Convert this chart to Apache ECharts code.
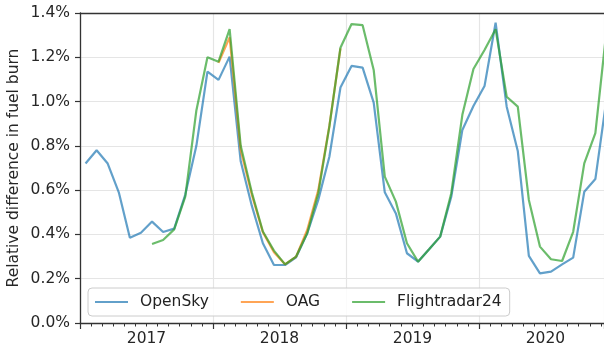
<!DOCTYPE html>
<html>
<head>
<meta charset="utf-8">
<script src="https://cdn.jsdelivr.net/npm/echarts@6/dist/echarts.min.js"></script>
<style>
  html, body { margin: 0; padding: 0; background: #ffffff; }
  #chart { width: 604px; height: 349px; }
</style>
</head>
<body>
<div id="chart"></div>
<script>
// Monthly relative difference in fuel burn (%), first entry = January 2017
const yearLabels = ['2017', '2018', '2019', '2020'];

const openSky = [
  0.72, 0.78, 0.72, 0.59, 0.385, 0.408, 0.458, 0.411, 0.426, 0.58, 0.80, 1.135,
  1.098, 1.203, 0.73, 0.53, 0.36, 0.262, 0.262, 0.297, 0.405, 0.556, 0.751, 1.063,
  1.161, 1.153, 0.995, 0.59, 0.495, 0.315, 0.277, 0.333, 0.39, 0.57, 0.872, 0.98,
  1.07, 1.356, 0.977, 0.777, 0.303, 0.224, 0.232, 0.265, 0.295, 0.593, 0.65, 1.01
];

const oag = [
  null, null, null, null, null, null, null, null, null, null, null, null,
  1.175, 1.29, 0.78, 0.58, 0.41, 0.32, 0.265, 0.30, 0.42, 0.60, 0.89, 1.24,
  null, null, null, null, null, null, null, null, null, null, null, null,
  null, null, null, null, null, null, null, null, null, null, null, null
];

const flightradar24 = [
  null, null, null, null, null, null, 0.357, 0.375, 0.423, 0.571, 0.96, 1.2,
  1.18, 1.327, 0.80, 0.59, 0.413, 0.327, 0.265, 0.30, 0.405, 0.586, 0.887, 1.243,
  1.35, 1.345, 1.143, 0.661, 0.548, 0.36, 0.277, 0.333, 0.39, 0.586, 0.94, 1.147,
  1.233, 1.327, 1.022, 0.977, 0.556, 0.345, 0.288, 0.28, 0.412, 0.721, 0.857, 1.32
];

// months are plotted at mid-month on a continuous month axis
const toPoints = arr => arr.map((v, i) => [i + 0.5, v]).filter(p => p[1] !== null);

const FONT = 'DejaVu Sans';
const FS = 15.5;
const AXIS_COLOR = '#333333';
const X_MAX = 47.28;
const gridRect = { left: 80, right: 0, top: 13, bottom: 26, outerBoundsMode: 'none', containLabel: false };

const chart = echarts.init(document.getElementById('chart'), null, { renderer: 'canvas' });

chart.setOption({
  animation: false,
  backgroundColor: '#ffffff',
  grid: [
    Object.assign({}, gridRect),
    Object.assign({}, gridRect),
    Object.assign({}, gridRect)
  ],
  xAxis: [
    { // year boundaries: long ticks + vertical grid
      gridIndex: 0, type: 'value', position: 'bottom', min: 0, max: X_MAX, interval: 12,
      axisLine: { show: true, lineStyle: { color: AXIS_COLOR, width: 1.3 } },
      axisTick: { show: true, length: 6, lineStyle: { color: AXIS_COLOR, width: 1.2 } },
      axisLabel: { show: false },
      splitLine: { show: true, lineStyle: { color: '#e5e5e5', width: 1.2 } }
    },
    { // top frame line
      gridIndex: 0, type: 'value', position: 'top', min: 0, max: X_MAX, interval: 12,
      axisLine: { show: true, lineStyle: { color: AXIS_COLOR, width: 1.3 } },
      axisTick: { show: false }, axisLabel: { show: false }, splitLine: { show: false }
    },
    { // monthly minor ticks
      gridIndex: 1, type: 'value', position: 'bottom', min: 0, max: X_MAX, interval: 1,
      axisLine: { show: false },
      axisTick: { show: true, length: 3.5, lineStyle: { color: AXIS_COLOR, width: 1 } },
      axisLabel: { show: false }, splitLine: { show: false }
    },
    { // year labels centred on each year
      gridIndex: 2, type: 'value', position: 'bottom', min: 0, max: X_MAX, interval: 6,
      axisLine: { show: false }, axisTick: { show: false }, splitLine: { show: false },
      axisLabel: {
        show: true, margin: 8, fontFamily: FONT, fontSize: FS, color: '#262626',
        showMinLabel: false, showMaxLabel: false,
        formatter: v => (Math.round(v) % 12 === 6 ? yearLabels[(Math.round(v) - 6) / 12] : '')
      }
    }
  ],
  yAxis: [
    {
      gridIndex: 0, type: 'value', min: 0, max: 1.4, interval: 0.2,
      name: 'Relative difference in fuel burn', nameLocation: 'middle', nameGap: 58,
      nameMoveOverlap: false,
      nameTextStyle: { fontFamily: FONT, fontSize: FS, color: '#262626' },
      axisLine: { show: true, lineStyle: { color: AXIS_COLOR, width: 1.3 } },
      axisTick: { show: true, length: 5, lineStyle: { color: AXIS_COLOR, width: 1.2 } },
      axisLabel: {
        margin: 10, fontFamily: FONT, fontSize: FS, color: '#262626',
        formatter: v => v.toFixed(1) + '%'
      },
      splitLine: { show: true, lineStyle: { color: '#e5e5e5', width: 1.2 } }
    },
    { gridIndex: 1, type: 'value', min: 0, max: 1.4, show: false },
    { gridIndex: 2, type: 'value', min: 0, max: 1.4, show: false }
  ],
  legend: {
    left: 88, top: 288, orient: 'horizontal',
    icon: 'rect', itemWidth: 33, itemHeight: 2.2, itemGap: 32,
    padding: [6, 8, 6, 7],
    backgroundColor: 'rgba(255,255,255,0.85)',
    borderColor: '#cccccc', borderWidth: 1, borderRadius: 4,
    textStyle: { fontFamily: FONT, fontSize: FS, color: '#222222', padding: [0, 0, 0, 7] },
    data: [
      { name: 'OpenSky', itemStyle: { color: '#62a0ca' } },
      { name: 'OAG', itemStyle: { color: '#ffa556' } },
      { name: 'Flightradar24', itemStyle: { color: '#6bbc6b' } }
    ]
  },
  series: [
    {
      name: 'OpenSky', type: 'line', xAxisIndex: 0, yAxisIndex: 0,
      data: toPoints(openSky), showSymbol: false, symbol: 'none',
      color: '#1f77b4', lineStyle: { width: 2.2, opacity: 0.7 }
    },
    {
      name: 'OAG', type: 'line', xAxisIndex: 0, yAxisIndex: 0,
      data: toPoints(oag), showSymbol: false, symbol: 'none',
      color: '#ff7f0e', lineStyle: { width: 2.2, opacity: 0.7 }
    },
    {
      name: 'Flightradar24', type: 'line', xAxisIndex: 0, yAxisIndex: 0,
      data: toPoints(flightradar24), showSymbol: false, symbol: 'none',
      color: '#2ca02c', lineStyle: { width: 2.2, opacity: 0.7 }
    }
  ]
});
</script>
</body>
</html>
